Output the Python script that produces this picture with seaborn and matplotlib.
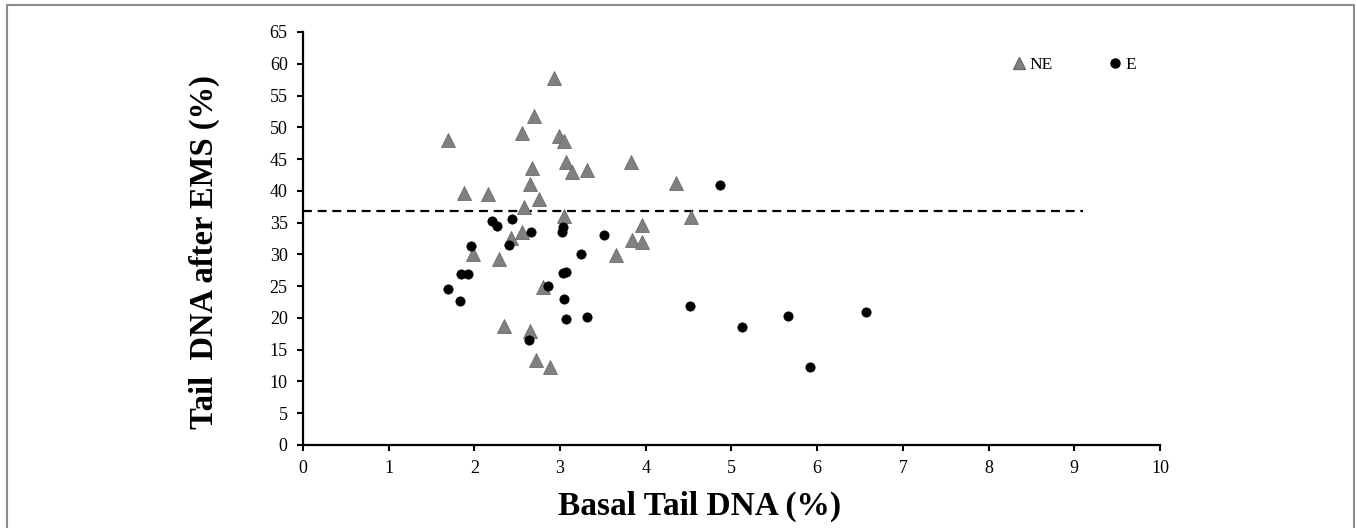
import matplotlib
matplotlib.use("Agg")
import matplotlib.pyplot as plt
import matplotlib.lines as mlines
import pandas as pd
import seaborn as sns

# NE group (triangles)
ne_x = [1.69, 1.88, 1.98, 2.16, 2.29, 2.35, 2.43, 2.55, 2.56, 2.58, 2.65, 2.65,
        2.67, 2.70, 2.72, 2.75, 2.80, 2.88, 2.93, 2.99, 3.05, 3.05, 3.07, 3.14,
        3.31, 3.65, 3.83, 3.84, 3.95, 3.96, 4.35, 4.53]
ne_y = [48.0, 39.7, 30.0, 39.5, 29.2, 18.8, 32.6, 33.6, 49.1, 37.4, 41.0, 17.9,
        43.6, 51.8, 13.3, 38.7, 24.8, 12.3, 57.8, 48.7, 47.9, 36.0, 44.5, 42.9,
        43.3, 29.9, 44.5, 32.2, 32.0, 34.6, 41.2, 35.9]

# E group (dots)
e_x = [1.69, 1.83, 1.84, 1.93, 1.96, 2.21, 2.26, 2.40, 2.44, 2.64, 2.66, 2.86,
       3.02, 3.03, 3.03, 3.07, 3.05, 3.07, 3.24, 3.31, 3.51, 4.51, 4.87, 5.12,
       5.66, 5.92, 6.57]
e_y = [24.5, 22.7, 26.9, 26.9, 31.3, 35.2, 34.4, 31.4, 35.5, 16.5, 33.5, 25.0,
       33.5, 34.3, 27.0, 27.2, 22.9, 19.9, 30.0, 20.2, 33.0, 21.9, 40.9, 18.5,
       20.3, 12.3, 20.9]

threshold = 36.8
threshold_end = 9.1

df = pd.DataFrame({
    "basal": ne_x + e_x,
    "ems": ne_y + e_y,
    "group": ["NE"] * len(ne_x) + ["E"] * len(e_x),
})

sns.set_style("ticks")
plt.rcParams["font.family"] = ["Liberation Serif", "DejaVu Serif"]
plt.rcParams["text.color"] = "black"
plt.rcParams["axes.labelcolor"] = "black"
plt.rcParams["xtick.color"] = "black"
plt.rcParams["ytick.color"] = "black"
plt.rcParams["axes.edgecolor"] = "black"

fig = plt.figure(figsize=(13.57, 5.28), dpi=100)
ax = fig.add_axes([0.2233, 0.1572, 0.8548 - 0.2233, 0.9394 - 0.1572])

ne = df[df.group == "NE"]
e = df[df.group == "E"]
sns.scatterplot(data=ne, x="basal", y="ems", marker="^", s=100, color="#808080",
                edgecolor="#6a6a6a", linewidth=0.6, ax=ax, zorder=3)
sns.scatterplot(data=e, x="basal", y="ems", marker="o", s=45, color="black",
                edgecolor="black", linewidth=0.5, ax=ax, zorder=4)

ax.hlines(threshold, 0, threshold_end, colors="black", linestyles=(0, (4, 2.6)),
          linewidth=1.6, zorder=2)

ax.set_xlim(0, 10)
ax.set_ylim(0, 65)
ax.set_xticks(range(0, 11))
ax.set_yticks(range(0, 66, 5))
for s in ["top", "right"]:
    ax.spines[s].set_visible(False)
for s in ["left", "bottom"]:
    ax.spines[s].set_linewidth(1.6)
ax.tick_params(axis="both", length=4, width=1.5, labelsize=13, direction="out")
ax.tick_params(axis="x", pad=7)
ax.tick_params(axis="y", pad=7)

ax.set_xlabel("Basal Tail DNA (%)", fontsize=24, fontweight="bold")
ax.set_ylabel("Tail  DNA after EMS (%)", fontsize=23.5, fontweight="bold")
ax.xaxis.set_label_coords(0.463, -0.11)
ax.yaxis.set_label_coords(-0.097, 0.467)

h_ne = mlines.Line2D([], [], linestyle="none", marker="^", markersize=9,
                     color="#808080", markeredgecolor="#6a6a6a")
h_e = mlines.Line2D([], [], linestyle="none", marker="o", markersize=6.5,
                    color="black")
ax.legend([h_ne, h_e], ["NE", "E"], ncol=2, frameon=False, fontsize=12.5,
          loc="upper right", bbox_to_anchor=(0.99, 0.978), handletextpad=0.0,
          columnspacing=3.0, handlelength=1.2)

# thin grey frame around the figure
fx = [7 / 1357, 7 / 1357, 1354 / 1357, 1354 / 1357]
fy = [0.0, 1 - 5 / 528, 1 - 5 / 528, 0.0]
fig.add_artist(mlines.Line2D(fx, fy, transform=fig.transFigure,
                             color="#8c8c8c", linewidth=1.5))

fig.savefig("out.png", dpi=100)
